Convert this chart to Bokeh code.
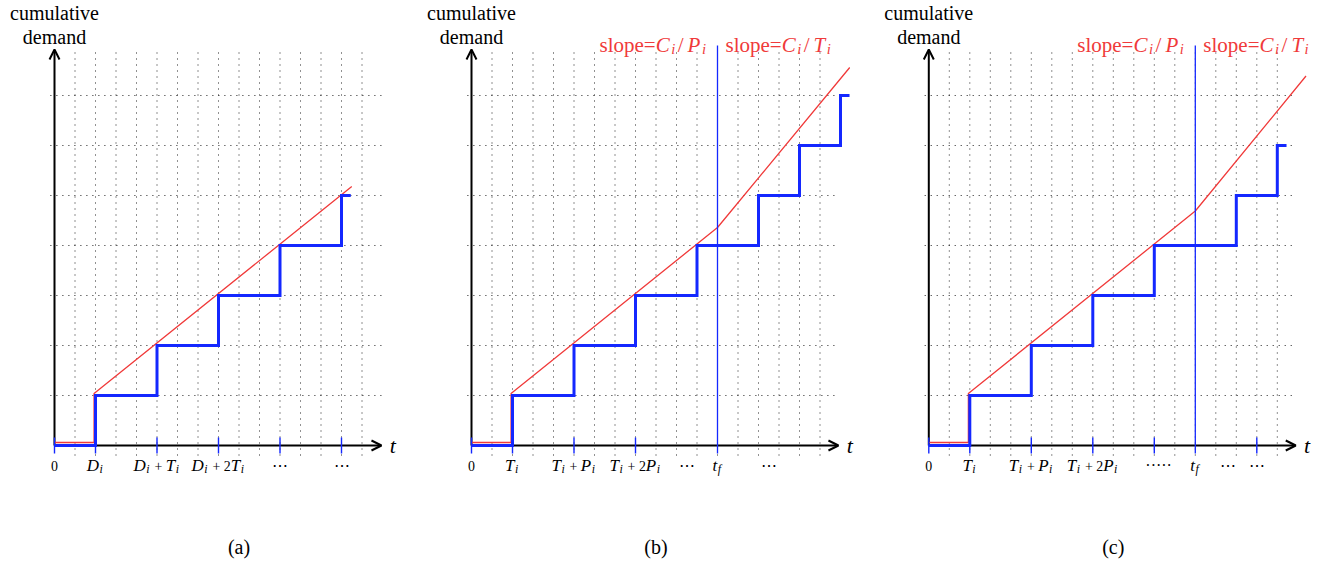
from bokeh.plotting import figure
from bokeh.models import Range1d, Arrow, OpenHead, ColumnDataSource
from bokeh.layouts import row
from bokeh.embed import file_html
from bokeh.resources import INLINE
from bokeh.core.properties import value, field

# ---------------- data ----------------
# panel (a): implicit deadline, constant period
a_release = [2, 5, 8, 11, 14]
a_step_end = 14.45
a_bound_x = [0, 1.93, 1.93, 14.5]
a_bound_y = [0.06, 0.06, 1.04, 5.18]
a_ticks = [0, 2, 5, 8, 11, 14]
a_label_x = [0, 2, 5, 8, 11, 14]
a_labels = ["0", "D_i", "D_i + T_i", "D_i + 2T_i", "⋯", "⋯"]

# panel (b): period P before t_f, period T after
b_release = [2, 5, 8, 11, 14, 16, 18]
b_step_end = 18.44
b_tf = 12
b_bound_x = [0, 1.93, 1.93, 12, 18.45]
b_bound_y = [0.06, 0.06, 1.04, 4.36, 7.56]
b_ticks = [0, 2, 5, 8]
b_label_x = [0, 2, 5, 8, 10.5, 12, 14.5]
b_labels = ["0", "T_i", "T_i + P_i", "T_i + 2P_i", "⋯", "t_f", "⋯"]

# panel (c)
c_release = [2, 5, 8, 11, 15, 17]
c_step_end = 17.45
c_tf = 13
c_bound_x = [0, 1.93, 1.93, 13, 18.4]
c_bound_y = [0.06, 0.06, 1.04, 4.69, 7.39]
c_ticks = [0, 2, 5, 8, 11, 16]
c_label_x = [0, 2, 5, 8, 11, 13, 14.6, 16]
c_labels = ["0", "T_i", "T_i + P_i", "T_i + 2P_i", "·····", "t_f", "⋯", "⋯"]

grid_levels = [1, 2, 3, 4, 5, 6, 7]
y_title = ["cumulative", "demand"]
captions = ["(a)", "(b)", "(c)"]
slope_labels = ["C_i/P_i", "C_i/T_i"]

# ---------------- style ----------------
UX = 20.5     # px per time unit
UY = 50.0     # px per demand unit
H = 559
AXIS_FROM_TOP = 445
Y_TOP = AXIS_FROM_TOP / UY
Y_BOT = Y_TOP - H / UY
FONT = "Liberation Serif"
BLUE = "#1428ff"
RED = "#f03a3a"
GRIDC = "#222222"

IT_W = {"D": .722, "T": .556, "P": .611, "C": .667, "i": .278, "t": .278, "f": .278}
RM_W = {"+": .564, "2": .5, "0": .5, "s": .389, "l": .278, "o": .5, "p": .5,
        "e": .444, "=": .564, "/": .278, "⋯": 1.0, "·": .32}


def build_parts(label, base, prefix="", rm_scale=0.82, sub_scale=0.7, it_pad=0.5, slash_pad=2.0):
    parts = []  # (text, style, size, dy, width)
    for ch in prefix:
        parts.append([ch, "normal", base, 0, RM_W.get(ch, .5) * base])
    i = 0
    while i < len(label):
        ch = label[i]
        if ch == "_":
            s = label[i + 1]
            sz = base * sub_scale
            parts.append([s, "italic", sz, base * 0.22, IT_W.get(s, .3) * sz + 1.0 + it_pad])
            i += 2
            continue
        if ch == " ":
            parts.append(["", "normal", base, 0, 0.2 * base])
        elif ch.isalpha():
            parts.append([ch, "italic", base, 0, IT_W.get(ch, .5) * base + it_pad])
        else:
            sz = base * rm_scale if prefix == "" else base
            extra = slash_pad if ch == "/" else 0
            parts.append([ch, "normal", sz, 0, RM_W.get(ch, .5) * sz + extra])
        i += 1
    merged = []
    for pt in parts:
        if merged and pt[1] == "normal" and merged[-1][1] == "normal" and merged[-1][2] == pt[2] and pt[3] == merged[-1][3] and pt[0] != "" and merged[-1][0] != "":
            merged[-1][0] += pt[0]
            merged[-1][4] += pt[4]
        else:
            merged.append(pt)
    return merged


def add_math(store, x, y, label, base, color, align="center", prefix="", dx=0, it_pad=0.5, slash_pad=2.0):
    parts = build_parts(label, base, prefix, it_pad=it_pad, slash_pad=slash_pad)
    total = sum(p[4] for p in parts)
    if align == "center":
        start = -total / 2
    elif align == "right":
        start = -total
    else:
        start = 0
    cur = start + dx
    for txt, style, size, dy, w in parts:
        if txt:
            store["x"].append(x)
            store["y"].append(y)
            store["text"].append(txt)
            store["xo"].append(cur)
            store["yo"].append(dy)
            store["fs"].append("%.1fpx" % size)
            store["style"].append(style)
            store["color"].append(color)
        cur += w


def step_path(release, end):
    xs, ys, lvl = [0], [0], 0
    for r in release:
        xs += [r, r]
        ys += [lvl, lvl + 1]
        lvl += 1
    xs.append(end)
    ys.append(lvl)
    return xs, ys


def panel(width, x0px, release, step_end, bx, by, ticks, lx, labels, caption,
          axis_end, vgrid_max, hgrid_end, tf=None):
    xs0 = -x0px / UX
    p = figure(width=width, height=H, x_range=Range1d(xs0, xs0 + width / UX),
               y_range=Range1d(Y_BOT, Y_TOP), output_backend="svg",
               toolbar_location=None, x_axis_location=None, y_axis_location=None,
               min_border=0, outline_line_color=None)
    p.grid.visible = False

    # dotted grid
    p.multi_line(xs=[[-0.2, hgrid_end] for _ in grid_levels],
                 ys=[[g, g] for g in grid_levels],
                 line_color=GRIDC, line_width=1, line_dash="1 5", level="image")
    vx = list(range(1, vgrid_max + 1))
    p.multi_line(xs=[[v, v] for v in vx], ys=[[-0.2, 7.9] for _ in vx],
                 line_color=GRIDC, line_width=1, line_dash="1 5", level="image")

    # axes
    p.add_layout(Arrow(end=OpenHead(size=10, line_width=2, line_color="black"),
                       x_start=0, y_start=0, x_end=axis_end, y_end=0,
                       line_width=2, line_color="black", level="underlay"))
    p.add_layout(Arrow(end=OpenHead(size=10, line_width=2, line_color="black"),
                       x_start=0, y_start=0, x_end=0, y_end=7.92,
                       line_width=2, line_color="black", level="underlay"))

    # bound (red)
    p.line(bx, by, line_color=RED, line_width=1.3)
    # demand steps (blue)
    sx, sy = step_path(release, step_end)
    p.line(sx, sy, line_color=BLUE, line_width=3, line_join="miter")
    # ticks
    p.segment(x0=ticks, y0=[-0.16] * len(ticks), x1=ticks, y1=[0.16] * len(ticks),
              line_color=BLUE, line_width=1.4)
    if tf is not None:
        p.segment(x0=[tf], y0=[-0.16], x1=[tf], y1=[8.0], line_color=BLUE, line_width=1.3)

    store = {k: [] for k in ["x", "y", "text", "xo", "yo", "fs", "style", "color"]}
    for x, lab in zip(lx, labels):
        if lab in ("⋯", "·····"):
            store["x"].append(x); store["y"].append(-0.4); store["text"].append(lab)
            store["xo"].append(-8 if lab == "⋯" else -9); store["yo"].append(0)
            store["fs"].append("16px"); store["style"].append("normal"); store["color"].append("black")
        else:
            add_math(store, x, -0.4, lab, 17, "black")
    if tf is not None:
        add_math(store, tf, 8.02, slope_labels[0], 21, RED, align="right", prefix="slope=", dx=-9, it_pad=1.5, slash_pad=4)
        add_math(store, tf, 8.02, slope_labels[1], 21, RED, align="left", prefix="slope=", dx=8, it_pad=1.5, slash_pad=4)
    src = ColumnDataSource(store)
    p.text(x="x", y="y", text="text", x_offset="xo", y_offset="yo",
           text_font_size=field("fs"), text_font_style=field("style"),
           text_color=field("color"), text_font=value(FONT),
           text_align="left", text_baseline="alphabetic", source=src)

    # axis labels
    p.text(x=[axis_end + 0.55], y=[0], text=["t"], text_font=value(FONT),
           text_font_style="italic", text_font_size="22px",
           text_align="center", text_baseline="middle", text_color="black")
    p.text(x=[0, 0], y=[8.65, 8.18], text=y_title, text_font=value(FONT),
           text_font_size="20px", text_align="center", text_baseline="alphabetic",
           text_color="black")
    p.text(x=[9], y=[-2.02], text=[caption], text_font=value(FONT),
           text_font_size="20px", text_align="center", text_baseline="middle",
           text_color="black")
    return p


pa = panel(420, 54, a_release, a_step_end, a_bound_x, a_bound_y, a_ticks,
           a_label_x, a_labels, captions[0], 15.95, 15, 16.05)
pb = panel(460, 51, b_release, b_step_end, b_bound_x, b_bound_y, b_ticks,
           b_label_x, b_labels, captions[1], 17.9, 17, 17.8, tf=b_tf)
pc = panel(447, 48.3, c_release, c_step_end, c_bound_x, c_bound_y, c_ticks,
           c_label_x, c_labels, captions[2], 17.9, 17, 17.8, tf=c_tf)

layout = row(pa, pb, pc, spacing=0)
open("out.html", "w").write(file_html(layout, INLINE))
